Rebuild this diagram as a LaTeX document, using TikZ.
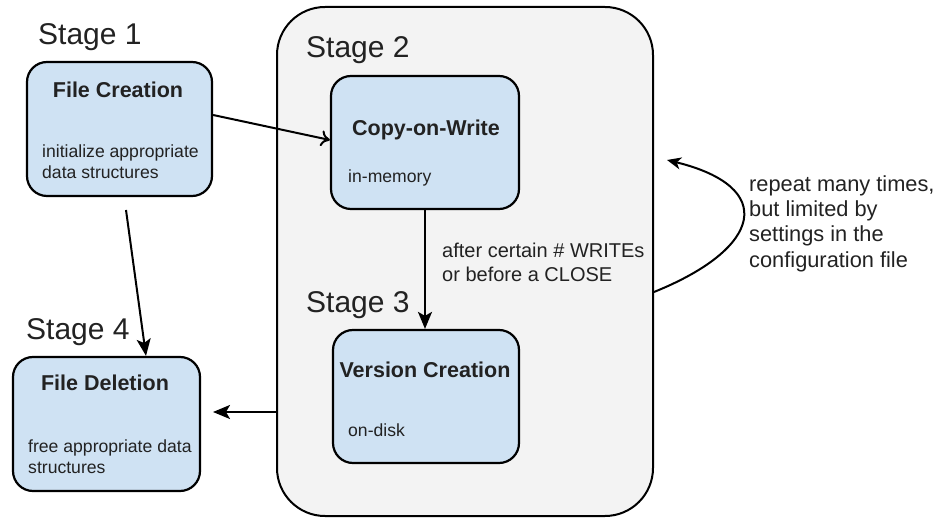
\documentclass[tikz,border=0pt]{standalone}
\usepackage{fontspec}
\setmainfont{Liberation Sans}
\usetikzlibrary{arrows.meta}
\definecolor{boxblue}{HTML}{CFE2F3}
\definecolor{panelgray}{HTML}{F3F3F3}
\definecolor{txt}{HTML}{222222}
\begin{document}
\begin{tikzpicture}[x=1pt,y=-1pt,
  stagebox/.style={draw=black,line width=2.2pt,fill=boxblue,rounded corners=20pt,inner sep=0pt},
  stagelbl/.style={anchor=base west,inner sep=0pt,text=txt,font=\fontsize{30}{36}\selectfont},
  titlelbl/.style={anchor=base,inner sep=0pt,text=txt,font=\fontsize{21.5}{26}\selectfont\bfseries},
  bodylbl/.style={anchor=base west,inner sep=0pt,text=txt,font=\fontsize{17.6}{21}\selectfont},
  notelbl/.style={anchor=base west,inner sep=0pt,text=txt,font=\fontsize{20}{24}\selectfont},
  replbl/.style={anchor=base west,inner sep=0pt,text=txt,font=\fontsize{21.8}{25}\selectfont},
  conn/.style={line width=2pt,draw=black},
  filltip/.style={-{Stealth[length=17pt,width=14pt,inset=4pt]}},
  opentip/.style={-{To[length=9pt,width=16pt,line width=2pt]}}]
\useasboundingbox (0,0) rectangle (940,518);
% container
\node[draw=black,line width=2pt,fill=panelgray,rounded corners=48pt,minimum width=376pt,minimum height=509pt,inner sep=0pt] (panel) at (465,261.5) {};
% boxes
\node[stagebox,minimum width=185pt,minimum height=134pt] (fc) at (119.5,129) {};
\node[stagebox,minimum width=188pt,minimum height=133pt] (cow) at (425,142.5) {};
\node[stagebox,minimum width=186pt,minimum height=133pt] (vc) at (426,396.5) {};
\node[stagebox,minimum width=187pt,minimum height=134pt] (fd) at (106.5,424) {};
% stage labels
\node[stagelbl] (s1) at (38,45) {Stage 1};
\node[stagelbl] (s2) at (306,58) {Stage 2};
\node[stagelbl] (s3) at (306,313) {Stage 3};
\node[stagelbl] (s4) at (26,340) {Stage 4};
% box texts
\node[titlelbl] (fct) at (118,98) {File Creation};
\node[bodylbl] (fcb1) at (42,158) {initialize appropriate};
\node[bodylbl] (fcb2) at (42,179) {data structures};
\node[titlelbl] (cowt) at (426,136) {Copy-on-Write};
\node[bodylbl] (cowb) at (348,183) {in-memory};
\node[titlelbl] (vct) at (425,378) {Version Creation};
\node[bodylbl] (vcb) at (348,437) {on-disk};
\node[titlelbl] (fdt) at (105,391) {File Deletion};
\node[bodylbl] (fdb1) at (28,453) {free appropriate data};
\node[bodylbl] (fdb2) at (28,473) {structures};
% notes
\node[notelbl] (n1) at (442,258) {after certain \# WRITEs};
\node[notelbl] (n2) at (442,282) {or before a CLOSE};
\node[replbl] (r1) at (749,192) {repeat many times,};
\node[replbl] (r2) at (749,217) {but limited by};
\node[replbl] (r3) at (749,242) {settings in the};
\node[replbl] (r4) at (749,268) {configuration file};
% connectors
\draw[conn,opentip] ([yshift=14pt]fc.east) -- ([yshift=2.5pt]cow.west);
\draw[conn,filltip] (cow.south) -- (cow.south |- vc.north);
\coordinate (fcfoot) at (126,210);
\draw[conn,filltip] (fcfoot) -- ([xshift=39.5pt]fd.north);
\coordinate (fdtip) at (213,412);
\draw[conn,filltip] (panel.west |- fdtip) -- (fdtip);
\coordinate (looptip) at (667,160);
\draw[conn,-{Stealth[length=14pt,width=12pt,inset=4pt]}] (panel.east |- 0,292) .. controls (763,248) and (777,187) .. (looptip);
\end{tikzpicture}
\end{document}
